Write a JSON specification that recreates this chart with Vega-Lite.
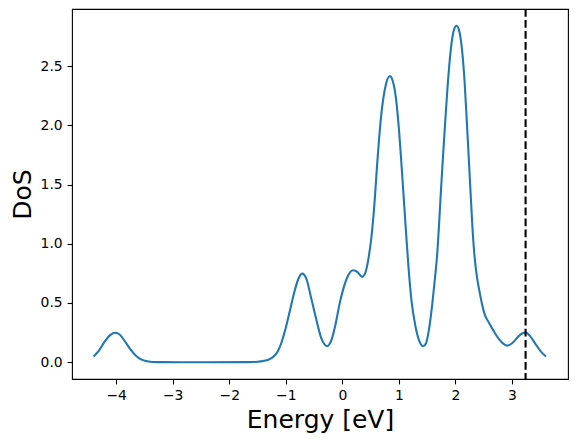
{
  "$schema": "https://vega.github.io/schema/vega-lite/v6.json",
  "width": 496,
  "height": 370,
  "autosize": "none",
  "padding": {"left": 72, "top": 9, "right": 9, "bottom": 63},
  "background": "white",
  "config": {
    "view": {"stroke": "black", "strokeWidth": 1.1},
    "font": "DejaVu Sans",
    "axis": {
      "grid": false,
      "domain": false,
      "tickColor": "black",
      "tickWidth": 1.1,
      "tickSize": 4.9,
      "labelPadding": 4.9,
      "labelFont": "DejaVu Sans",
      "labelFontSize": 13.9,
      "labelColor": "black",
      "titleFont": "DejaVu Sans",
      "titleFontSize": 25,
      "titleFontWeight": "normal",
      "titleColor": "black"
    }
  },
  "layer": [
    {
      "data": {
        "values": [
          {"E": -4.40, "DoS": 0.048},
          {"E": -4.30, "DoS": 0.10},
          {"E": -4.20, "DoS": 0.175},
          {"E": -4.10, "DoS": 0.23},
          {"E": -4.02, "DoS": 0.249},
          {"E": -3.95, "DoS": 0.238},
          {"E": -3.85, "DoS": 0.18},
          {"E": -3.75, "DoS": 0.11},
          {"E": -3.65, "DoS": 0.055},
          {"E": -3.55, "DoS": 0.022},
          {"E": -3.45, "DoS": 0.008},
          {"E": -3.35, "DoS": 0.002},
          {"E": -3.20, "DoS": 0.0004},
          {"E": -2.50, "DoS": 0.0},
          {"E": -1.65, "DoS": 0.0008},
          {"E": -1.50, "DoS": 0.004},
          {"E": -1.40, "DoS": 0.01},
          {"E": -1.30, "DoS": 0.022},
          {"E": -1.22, "DoS": 0.045},
          {"E": -1.15, "DoS": 0.085},
          {"E": -1.08, "DoS": 0.16},
          {"E": -1.00, "DoS": 0.29},
          {"E": -0.92, "DoS": 0.45},
          {"E": -0.85, "DoS": 0.59},
          {"E": -0.78, "DoS": 0.70},
          {"E": -0.71, "DoS": 0.748},
          {"E": -0.64, "DoS": 0.71},
          {"E": -0.55, "DoS": 0.54},
          {"E": -0.46, "DoS": 0.36},
          {"E": -0.37, "DoS": 0.2},
          {"E": -0.27, "DoS": 0.135},
          {"E": -0.19, "DoS": 0.19},
          {"E": -0.12, "DoS": 0.32},
          {"E": -0.05, "DoS": 0.49},
          {"E": 0.03, "DoS": 0.64},
          {"E": 0.10, "DoS": 0.73},
          {"E": 0.19, "DoS": 0.776},
          {"E": 0.27, "DoS": 0.76},
          {"E": 0.35, "DoS": 0.72},
          {"E": 0.41, "DoS": 0.76},
          {"E": 0.46, "DoS": 0.87},
          {"E": 0.51, "DoS": 1.04},
          {"E": 0.56, "DoS": 1.29},
          {"E": 0.62, "DoS": 1.70},
          {"E": 0.68, "DoS": 2.05},
          {"E": 0.75, "DoS": 2.30},
          {"E": 0.84, "DoS": 2.415},
          {"E": 0.90, "DoS": 2.36},
          {"E": 0.95, "DoS": 2.22},
          {"E": 1.00, "DoS": 1.97},
          {"E": 1.06, "DoS": 1.57},
          {"E": 1.12, "DoS": 1.14},
          {"E": 1.17, "DoS": 0.80},
          {"E": 1.22, "DoS": 0.53},
          {"E": 1.29, "DoS": 0.31},
          {"E": 1.36, "DoS": 0.18},
          {"E": 1.43, "DoS": 0.135},
          {"E": 1.48, "DoS": 0.16},
          {"E": 1.53, "DoS": 0.27},
          {"E": 1.59, "DoS": 0.49},
          {"E": 1.64, "DoS": 0.72},
          {"E": 1.68, "DoS": 0.93},
          {"E": 1.71, "DoS": 1.16},
          {"E": 1.74, "DoS": 1.42},
          {"E": 1.77, "DoS": 1.66},
          {"E": 1.80, "DoS": 1.89},
          {"E": 1.83, "DoS": 2.11},
          {"E": 1.86, "DoS": 2.32},
          {"E": 1.92, "DoS": 2.65},
          {"E": 1.97, "DoS": 2.80},
          {"E": 2.02, "DoS": 2.84},
          {"E": 2.07, "DoS": 2.79},
          {"E": 2.12, "DoS": 2.62},
          {"E": 2.16, "DoS": 2.38},
          {"E": 2.20, "DoS": 2.04},
          {"E": 2.26, "DoS": 1.50},
          {"E": 2.30, "DoS": 1.14},
          {"E": 2.34, "DoS": 0.88},
          {"E": 2.38, "DoS": 0.72},
          {"E": 2.42, "DoS": 0.61},
          {"E": 2.47, "DoS": 0.49},
          {"E": 2.52, "DoS": 0.40},
          {"E": 2.59, "DoS": 0.335},
          {"E": 2.68, "DoS": 0.26},
          {"E": 2.77, "DoS": 0.195},
          {"E": 2.85, "DoS": 0.155},
          {"E": 2.92, "DoS": 0.14},
          {"E": 3.00, "DoS": 0.16},
          {"E": 3.10, "DoS": 0.21},
          {"E": 3.17, "DoS": 0.24},
          {"E": 3.24, "DoS": 0.25},
          {"E": 3.32, "DoS": 0.22},
          {"E": 3.42, "DoS": 0.15},
          {"E": 3.52, "DoS": 0.085},
          {"E": 3.60, "DoS": 0.048}
        ]
      },
      "mark": {"type": "line", "color": "#1f77b4", "strokeWidth": 2.08, "interpolate": "monotone"},
      "encoding": {
        "x": {
          "field": "E", "type": "quantitative",
          "scale": {"domain": [-4.78, 3.99], "nice": false, "zero": false},
          "axis": {"title": "Energy [eV]", "values": [-4, -3, -2, -1, 0, 1, 2, 3], "format": "d", "labelExpr": "replace(datum.label, '-', '\u2212')", "titlePadding": 5}
        },
        "y": {
          "field": "DoS", "type": "quantitative",
          "scale": {"domain": [-0.142, 2.982], "nice": false, "zero": false},
          "axis": {"title": "DoS", "values": [0, 0.5, 1, 1.5, 2, 2.5], "format": ".1f", "titlePadding": 5}
        }
      }
    },
    {
      "data": {"values": [{"E": 3.24}]},
      "mark": {"type": "rule", "color": "black", "strokeWidth": 2.08, "strokeDash": [7.7, 3.33]},
      "encoding": {
        "x": {"field": "E", "type": "quantitative"}
      }
    }
  ]
}
